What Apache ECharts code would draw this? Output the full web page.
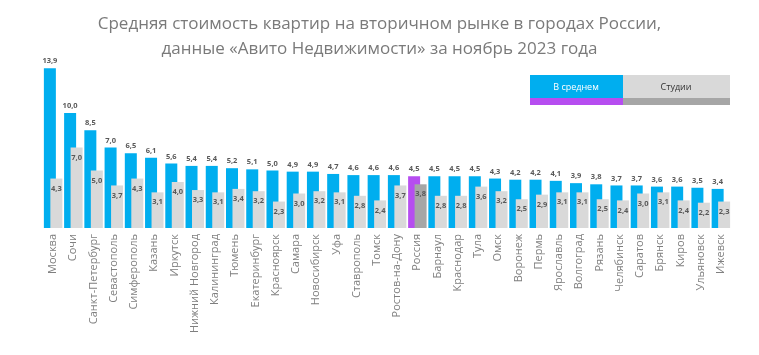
<!DOCTYPE html>
<html><head><meta charset="utf-8">
<script src="https://cdn.jsdelivr.net/npm/echarts@6/dist/echarts.min.js"></script>
<style>html,body{margin:0;padding:0;background:#fff}#c{width:759px;height:355px}</style>
</head><body><div id="c"></div>
<script>
const categories = ['Москва','Сочи','Санкт-Петербург','Севастополь','Симферополь','Казань','Иркутск','Нижний Новгород','Калининград','Тюмень','Екатеринбург','Красноярск','Самара','Новосибирск','Уфа','Ставрополь','Томск','Ростов-на-Дону','Россия','Барнаул','Краснодар','Тула','Омск','Воронеж','Пермь','Ярославль','Волгоград','Рязань','Челябинск','Саратов','Брянск','Киров','Ульяновск','Ижевск'];
const averageValues = [13.9,10.0,8.5,7.0,6.5,6.1,5.6,5.4,5.4,5.2,5.1,5.0,4.9,4.9,4.7,4.6,4.6,4.6,4.5,4.5,4.5,4.5,4.3,4.2,4.2,4.1,3.9,3.8,3.7,3.7,3.6,3.6,3.5,3.4];
const studioValues = [4.3,7.0,5.0,3.7,4.3,3.1,4.0,3.3,3.1,3.4,3.2,2.3,3.0,3.2,3.1,2.8,2.4,3.7,3.8,2.8,2.8,3.6,3.2,2.5,2.9,3.1,3.1,2.5,2.4,3.0,3.1,2.4,2.2,2.3];
const seriesNames = ['В среднем','Студии'];
const highlight = 'Россия';

const fmt = v => v.toFixed(1).replace('.', ',');
const chart = echarts.init(document.getElementById('c'));
const font = '"Open Sans","Noto Sans",sans-serif';
chart.setOption({
  animation:false,
  textStyle:{fontFamily:font},
  title:{
    text:'Средняя стоимость квартир на вторичном рынке в городах России,\nданные «Авито Недвижимости» за ноябрь 2023 года',
    left:'center', top:7,
    textStyle:{fontSize:17, fontWeight:'normal', color:'#7a7a7a', lineHeight:25, fontFamily:font}
  },
  grid:{left:43, right:28, top:67, bottom:127, containLabel:false},
  xAxis:{
    type:'category', data:categories,
    axisLine:{show:false}, axisTick:{show:false},
    axisLabel:{rotate:90, interval:0, color:'#7f7f7f', fontSize:11, margin:6, fontFamily:font}
  },
  yAxis:{type:'value', min:0, max:14, show:false, splitLine:{show:false}},
  series:[
    {
      name:seriesNames[0], type:'bar', barWidth:12, barGap:'-46%',
      data:averageValues.map((v,i)=>({value:v, itemStyle:{color: categories[i]===highlight ? '#B64DF0' : '#00AEEF'}})),
      label:{show:true, position:'top', distance:3, formatter:p=>fmt(p.value), fontSize:7.5, fontWeight:'bold', color:'#595959'}
    },
    {
      name:seriesNames[1], type:'bar', barWidth:12,
      data:studioValues.map((v,i)=>({value:v, itemStyle:{color: categories[i]===highlight ? '#A6A6A6' : '#D9D9D9'}})),
      label:{show:true, position:'insideTop', distance:6, formatter:p=>fmt(p.value), fontSize:7.5, fontWeight:'bold', color:'#595959'}
    }
  ],
  graphic:[
    {type:'rect', shape:{x:530,y:75,width:93,height:23}, style:{fill:'#00AEEF'}},
    {type:'rect', shape:{x:530,y:98,width:93,height:7}, style:{fill:'#B64DF0'}},
    {type:'rect', shape:{x:623,y:75,width:107,height:23}, style:{fill:'#D9D9D9'}},
    {type:'rect', shape:{x:623,y:98,width:107,height:7}, style:{fill:'#A6A6A6'}},
    {type:'text', x:576, y:87, style:{text:seriesNames[0], fill:'#fff', fontSize:9, align:'center', verticalAlign:'middle', fontFamily:font}},
    {type:'text', x:676, y:87, style:{text:seriesNames[1], fill:'#333', fontSize:9, align:'center', verticalAlign:'middle', fontFamily:font}}
  ]
});
</script></body></html>
